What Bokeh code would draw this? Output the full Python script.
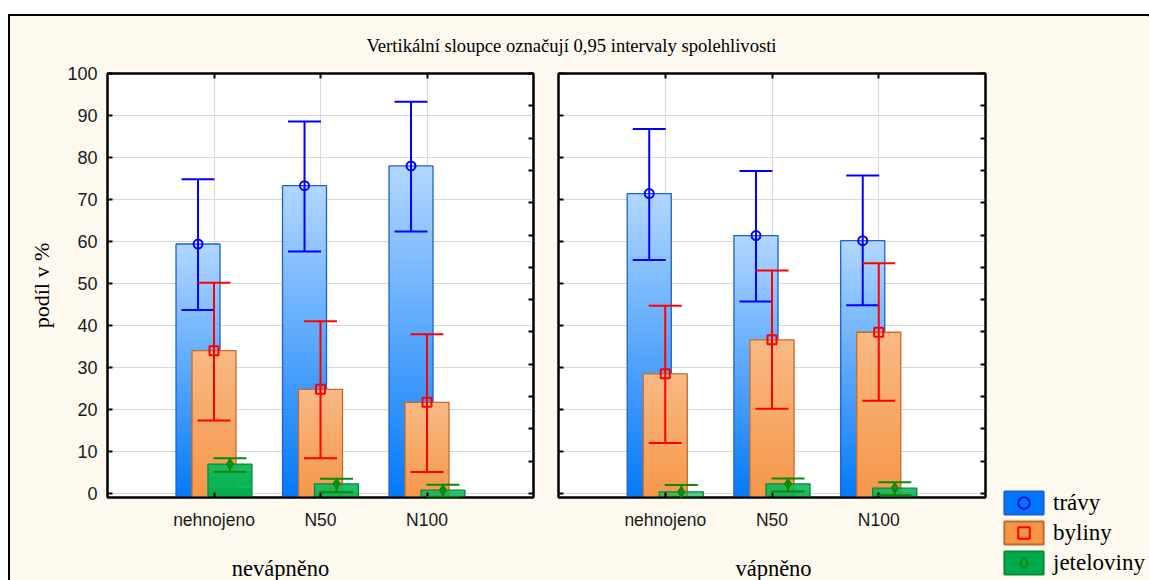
from bokeh.plotting import figure
from bokeh.models import (Range1d, FixedTicker, LinearAxis, ColumnDataSource, Whisker,
                          TeeHead, Label, Legend, LegendItem, CustomLabelingPolicy)
from bokeh.layouts import column, row
from bokeh.embed import file_html
from bokeh.resources import INLINE

# ---------------- data ----------------
cats = ["nehnojeno", "N50", "N100"]
series = ["trávy", "byliny", "jeteloviny"]
groups = ["nevápněno", "vápněno"]
title_text = "Vertikální sloupce označují 0,95 intervaly spolehlivosti"
ylabel = "podíl v %"

# nevápněno
travy_nev = [59.4, 73.3, 78.0]
travy_nev_lo = [43.7, 57.6, 62.4]
travy_nev_hi = [74.8, 88.6, 93.3]
byliny_nev = [34.0, 24.8, 21.7]
byliny_nev_lo = [17.4, 8.4, 5.1]
byliny_nev_hi = [50.2, 41.0, 37.9]
jetel_nev = [7.0, 2.3, 0.8]
jetel_nev_lo = [5.2, 0.3, -0.9]
jetel_nev_hi = [8.4, 3.5, 2.1]

# vápněno
travy_vap = [71.4, 61.4, 60.2]
travy_vap_lo = [55.6, 45.7, 44.8]
travy_vap_hi = [86.8, 76.8, 75.7]
byliny_vap = [28.5, 36.6, 38.4]
byliny_vap_lo = [12.0, 20.2, 22.1]
byliny_vap_hi = [44.7, 53.1, 54.8]
jetel_vap = [0.4, 2.3, 1.3]
jetel_vap_lo = [-1.2, 0.5, -0.4]
jetel_vap_hi = [2.0, 3.6, 2.7]

yticks = [0, 10, 20, 30, 40, 50, 60, 70, 80, 90, 100]

# ---------------- styles ----------------
CREAM = "#FDF9EE"
SANS = "Liberation Sans"
SERIF = "Liberation Serif"
GRID = "#D9D9D9"

styles = {
    "trávy": dict(top="#B2D7FF", bot="#0078F8", line="#1F5FD2", err="#0000FF", marker="circle"),
    "byliny": dict(top="#F8B985", bot="#F59646", line="#C8692C", err="#FF0000", marker="square"),
    "jeteloviny": dict(top="#14BC5E", bot="#00AA4C", line="#0B8A3C", err="#0A8A0A", marker="diamond"),
}
offsets = [-0.15, 0.0, 0.15]
BAR_W = 0.413
CAP_PX = 33
YMIN, YMAX = -0.95, 100
BASE = -2.0
NSLICES = 40

xpos = [i + 1 for i in range(len(cats))]

NO_LABELS = CustomLabelingPolicy(code="return new Set()")


def hex2rgb(h):
    h = h.lstrip("#")
    return tuple(int(h[i:i + 2], 16) for i in (0, 2, 4))


def mix(c1, c2, t):
    a, b = hex2rgb(c1), hex2rgb(c2)
    return "#%02x%02x%02x" % tuple(int(round(a[i] + (b[i] - a[i]) * t)) for i in range(3))


def gradient_bars(p, xs, vals, st):
    X, B, T, C = [], [], [], []
    for x, v in zip(xs, vals):
        h = v - BASE
        for i in range(NSLICES):
            f0 = i / NSLICES
            f1 = min(1.0, (i + 1.6) / NSLICES)
            X.append(x)
            B.append(BASE + h * f0)
            T.append(BASE + h * f1)
            C.append(mix(st["bot"], st["top"], (i + 0.5) / NSLICES))
    src = ColumnDataSource(dict(x=X, bottom=B, top=T, color=C))
    p.vbar(x="x", bottom="bottom", top="top", width=BAR_W, fill_color="color",
           line_color=None, source=src)
    p.vbar(x=xs, bottom=[BASE] * len(xs), top=vals, width=BAR_W, fill_color=None,
           line_color=st["line"], line_width=1.3)


def hide_labels(ax):
    ax.major_label_policy = NO_LABELS
    ax.major_label_text_font_size = "0px"
    ax.major_label_standoff = 0


def make_panel(data, show_ylabels, width, mb_left, mb_right):
    p = figure(width=width, height=482, output_backend="svg", toolbar_location=None,
               x_range=Range1d(0, len(cats) + 1), y_range=Range1d(YMIN, YMAX),
               min_border_left=mb_left, min_border_right=mb_right,
               min_border_top=10, min_border_bottom=48)
    p.background_fill_color = "white"
    p.border_fill_color = CREAM
    p.outline_line_color = "black"
    p.outline_line_width = 2

    for si, s in enumerate(series):
        vals = data[s][0]
        xs = [x + offsets[si] for x in xpos]
        gradient_bars(p, xs, vals, styles[s])
    for si, s in enumerate(series):
        vals, lo, hi = data[s]
        xs = [x + offsets[si] for x in xpos]
        st = styles[s]
        src = ColumnDataSource(dict(x=xs, y=vals, lo=lo, hi=hi))
        w = Whisker(source=src, base="x", lower="lo", upper="hi", level="annotation",
                    line_color=st["err"], line_width=2,
                    upper_head=TeeHead(size=CAP_PX, line_color=st["err"], line_width=2),
                    lower_head=TeeHead(size=CAP_PX, line_color=st["err"], line_width=2))
        p.add_layout(w)
        p.scatter(x="x", y="y", source=src, marker=st["marker"], size=9,
                  fill_color=None, line_color=st["err"], line_width=2)

    p.xgrid.ticker = FixedTicker(ticks=xpos)
    p.ygrid.ticker = FixedTicker(ticks=yticks)
    for g in (p.xgrid, p.ygrid):
        g.grid_line_color = GRID
        g.grid_line_width = 1

    xa = p.xaxis[0]
    xa.ticker = FixedTicker(ticks=xpos)
    xa.major_label_overrides = {x: c for x, c in zip(xpos, cats)}
    xa.major_label_text_font = SANS
    xa.major_label_text_font_size = "17.5px"
    xa.major_label_text_color = "#1a1a1a"
    xa.major_label_standoff = 12
    ya = p.yaxis[0]
    ya.ticker = FixedTicker(ticks=yticks)
    if show_ylabels:
        ya.major_label_text_font = SANS
        ya.major_label_text_font_size = "18px"
        ya.major_label_text_color = "#1a1a1a"
        ya.major_label_standoff = 10
        ya.axis_label = ylabel
        ya.axis_label_text_font = SERIF
        ya.axis_label_text_font_style = "normal"
        ya.axis_label_text_font_size = "22px"
        ya.axis_label_text_color = "black"
        ya.axis_label_standoff = 10
    else:
        hide_labels(ya)
    top = LinearAxis(ticker=FixedTicker(ticks=xpos))
    right = LinearAxis(ticker=FixedTicker(ticks=[k * 100 / 13 for k in range(14)]))
    hide_labels(top)
    hide_labels(right)
    p.add_layout(top, "above")
    p.add_layout(right, "right")
    for ax in (xa, ya, top, right):
        ax.axis_line_color = "black"
        ax.axis_line_width = 2
        ax.major_tick_in = 5
        ax.major_tick_out = 0
        ax.major_tick_line_width = 2
        ax.major_tick_line_color = "black"
        ax.minor_tick_line_color = None
    return p


data_nev = {"trávy": (travy_nev, travy_nev_lo, travy_nev_hi),
            "byliny": (byliny_nev, byliny_nev_lo, byliny_nev_hi),
            "jeteloviny": (jetel_nev, jetel_nev_lo, jetel_nev_hi)}
data_vap = {"trávy": (travy_vap, travy_vap_lo, travy_vap_hi),
            "byliny": (byliny_vap, byliny_vap_lo, byliny_vap_hi),
            "jeteloviny": (jetel_vap, jetel_vap_lo, jetel_vap_hi)}

p_left = make_panel(data_nev, True, 543, 97, 20)
p_right = make_panel(data_vap, False, 440, 5, 8)


def strip(width, height):
    s = figure(width=width, height=height, output_backend="svg", toolbar_location=None,
               x_range=Range1d(0, width), y_range=Range1d(0, height),
               min_border=0, x_axis_type=None, y_axis_type=None)
    s.grid.visible = False
    s.outline_line_color = None
    s.background_fill_color = CREAM
    s.border_fill_color = CREAM
    return s


# ---------------- title strip ----------------
p_title = strip(983, 47)
p_title.add_layout(Label(x=561, y=18, text=title_text, text_font=SERIF,
                         text_font_size="18.6px", text_align="center",
                         text_baseline="middle", text_color="black"))

# ---------------- group labels strip ----------------
p_foot = strip(983, 35)
for gx, g in zip([270, 763], groups):
    p_foot.add_layout(Label(x=gx, y=12, text=g, text_font=SERIF, text_font_size="22.5px",
                            text_align="center", text_baseline="middle", text_color="black"))

# ---------------- legend strip ----------------
p_leg = figure(width=156, height=564, output_backend="svg", toolbar_location=None,
               x_range=Range1d(0, 1), y_range=Range1d(0, 1),
               min_border=0, x_axis_type=None, y_axis_type=None)
p_leg.grid.visible = False
p_leg.outline_line_color = None
p_leg.background_fill_color = CREAM
p_leg.border_fill_color = CREAM
items = []
for s in series:
    st = styles[s]
    # swatch renderers kept outside the visible range; they only feed the legend
    r1 = p_leg.vbar(x=[5], bottom=[5], top=[6], width=0.1, fill_color=st["bot"],
                    line_color=st["line"], line_width=2)
    r2 = p_leg.scatter(x=[5], y=[5], marker=st["marker"], size=9, fill_color=None,
                       line_color=st["err"], line_width=2)
    items.append(LegendItem(label=s, renderers=[r1, r2]))
leg = Legend(items=items, location=(6, 3), glyph_width=49, glyph_height=29,
             label_standoff=5, spacing=1, padding=0, margin=0,
             border_line_color=None, background_fill_alpha=0,
             label_text_font=SERIF, label_text_font_size="23px", label_text_color="black")
p_leg.add_layout(leg, "center")

layout = row(column(p_title, row(p_left, p_right, spacing=0), p_foot, spacing=0), p_leg,
             spacing=0, margin=(14, 0, 0, 8),
             styles={"border-top": "2px solid black", "border-left": "2px solid black",
                     "background-color": CREAM})

open("out.html", "w").write(file_html(layout, INLINE))
